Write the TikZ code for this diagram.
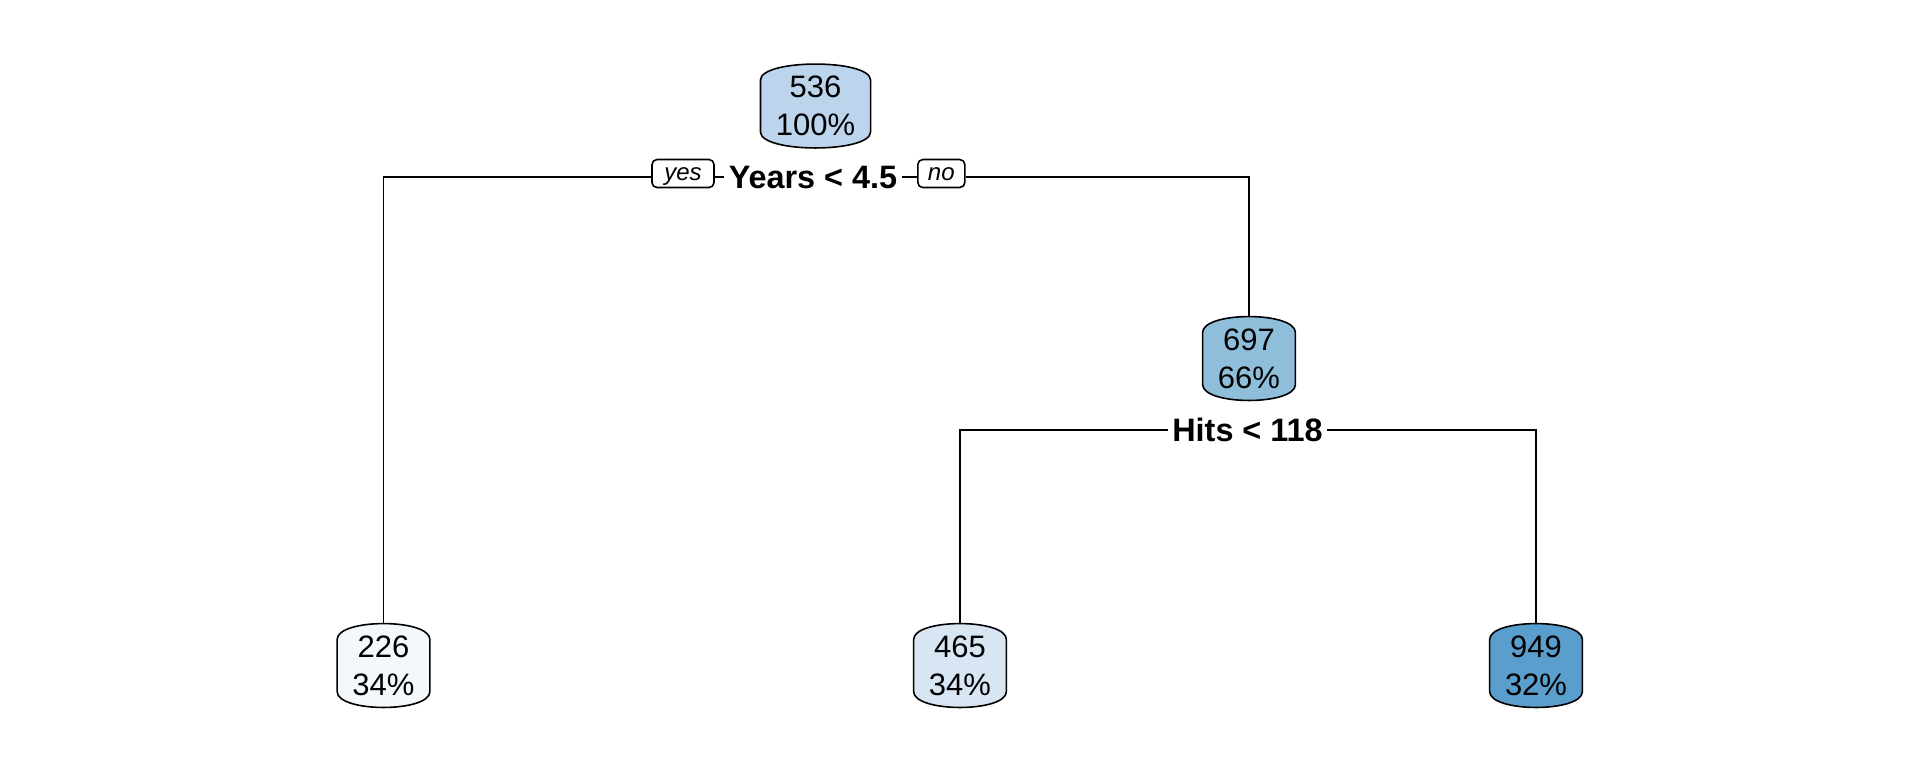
\documentclass[tikz,border=0pt]{standalone}
\usepackage{fontspec}
\setmainfont{Liberation Sans}
\usetikzlibrary{backgrounds}
\definecolor{cRoot}{HTML}{BDD5EC}
\definecolor{cMid}{HTML}{8FBEDA}
\definecolor{cL1}{HTML}{F3F8FC}
\definecolor{cL2}{HTML}{D8E6F4}
\definecolor{cL3}{HTML}{5A9ECE}
\tikzset{
  tnode/.style={align=center, font=\fontsize{15.5}{19}\selectfont, inner xsep=7.5pt, inner ysep=0pt, minimum height=41.5pt},
  splitlab/.style={font=\fontsize{16.2}{18}\selectfont\bfseries, fill=white, inner xsep=2pt, inner ysep=1pt},
  yn/.style={draw, line width=0.8pt, rounded corners=2.5pt, fill=white, minimum height=14pt, inner sep=0pt, text height=7.3pt, text depth=0pt, font=\fontsize{12}{14}\selectfont\itshape},
  conn/.style={line width=0.8pt},
}
\newcommand\barrelfill[2]{%
  \draw[line width=0.8pt, fill=#2]
    ([yshift=-8pt]#1.north west) .. controls ([yshift=2.7pt]#1.north west) and ([yshift=2.7pt]#1.north east) .. ([yshift=-8pt]#1.north east)
    -- ([yshift=8pt]#1.south east) .. controls ([yshift=-2.7pt]#1.south east) and ([yshift=-2.7pt]#1.south west) .. ([yshift=8pt]#1.south west)
    -- cycle;}
\begin{document}
\begin{tikzpicture}[x=0.5pt,y=-0.5pt]
\useasboundingbox (0,0) rectangle (1920,768);
% tree nodes
\node[tnode] (n1) at (815.5,106) {536\\100\%};
\node[tnode] (n2) at (1249,358.5) {697\\66\%};
\node[tnode] (l1) at (383.5,665.5) {226\\34\%};
\node[tnode] (l2) at (960,665.5) {465\\34\%};
\node[tnode] (l3) at (1536,665.5) {949\\32\%};
\begin{scope}[on background layer]
  \barrelfill{n1}{cRoot}
  \barrelfill{n2}{cMid}
  \barrelfill{l1}{cL1}
  \barrelfill{l2}{cL2}
  \barrelfill{l3}{cL3}
\end{scope}
% split labels
\node[splitlab] (s1) at (813,177) {Years < 4.5};
\node[splitlab] (s2) at (1247.5,430) {Hits < 118};
\node[yn, minimum width=31pt] (yes) at (683,173.5) {yes};
\node[yn, minimum width=23.5pt] (no) at (941.3,173.5) {no};
% connectors
\begin{scope}[on background layer]
\draw[conn] (l1.north) |- (yes.west |- s1);
\draw[conn] (yes.east |- s1) -- (s1.west);
\draw[conn] (s1.east) -- (no.west |- s1);
\draw[conn] (no.east |- s1) -| (n2.north);
\draw[conn] (l2.north) |- (s2.west);
\draw[conn] (s2.east) -| (l3.north);
\end{scope}
\end{tikzpicture}
\end{document}
